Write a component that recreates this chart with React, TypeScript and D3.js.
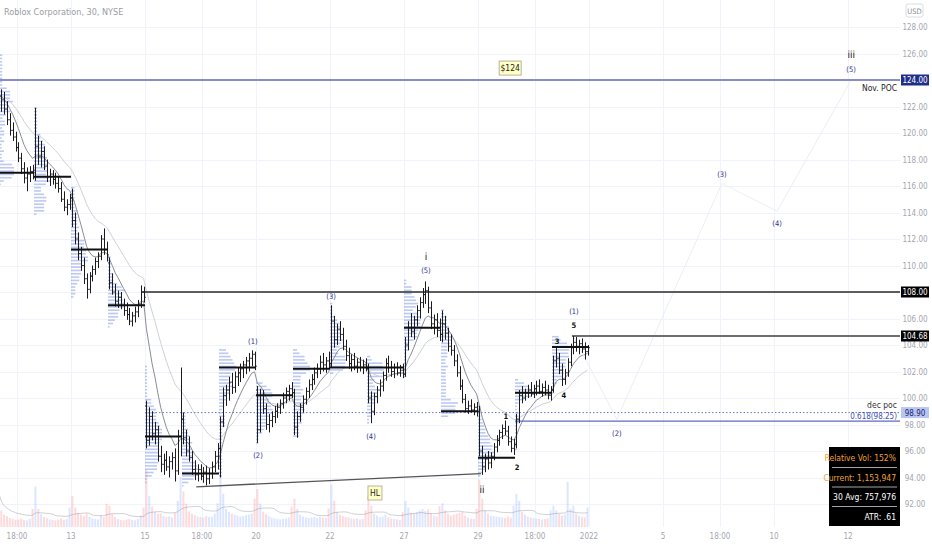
import React from "react";
import * as d3 from "d3";

// 30 min bars, 13 per session: [open, high, low, close]
const dec09 = [
  [125.0, 125.8, 122.4, 122.8], [122.8, 123.3, 121.6, 122.5], [122.5, 123.1, 121.4, 121.8], [121.8, 122.4, 120.6, 121.0],
  [121.0, 121.5, 119.8, 120.2], [120.2, 120.8, 119.4, 119.7], [119.7, 120.1, 118.6, 118.9], [118.9, 119.3, 117.8, 118.1],
  [118.1, 118.5, 116.9, 117.3], [117.3, 117.8, 116.2, 116.6], [116.6, 117.4, 115.6, 116.9], [116.9, 117.5, 116.3, 117.1],
  [117.1, 117.6, 116.5, 117.0],
];
const dec10 = [
  [117.2, 121.9, 116.4, 119.0], [119.0, 119.8, 117.6, 118.2], [118.2, 119.4, 117.4, 118.6], [118.6, 119.0, 117.2, 117.5],
  [117.5, 118.0, 116.3, 116.7], [116.7, 117.3, 116.0, 116.9], [116.9, 117.2, 116.1, 116.5], [116.5, 117.0, 115.8, 116.2],
  [116.2, 116.7, 115.5, 115.8], [115.8, 116.3, 114.8, 115.0], [115.0, 115.6, 114.1, 114.4], [114.4, 115.0, 113.8, 114.6],
  [114.6, 115.4, 114.2, 115.1],
];
const dec13 = [
  [115.1, 115.8, 112.9, 113.4], [113.4, 114.0, 111.6, 112.0], [112.0, 112.5, 110.4, 110.9], [110.9, 111.4, 109.6, 110.0],
  [110.0, 110.6, 108.6, 109.0], [109.0, 109.4, 107.5, 108.2], [108.2, 109.5, 107.9, 109.2], [109.2, 110.0, 108.8, 109.7],
  [109.7, 110.6, 109.3, 110.3], [110.3, 111.0, 109.8, 110.7], [110.7, 112.3, 110.4, 112.0], [112.0, 112.8, 110.8, 111.2],
  [111.2, 111.8, 110.3, 110.8],
];
const dec14 = [
  [110.2, 110.6, 108.2, 108.7], [108.7, 109.4, 107.8, 108.0], [108.0, 108.6, 106.9, 107.3], [107.3, 108.1, 106.8, 107.6],
  [107.6, 108.0, 106.7, 107.0], [107.0, 107.5, 106.2, 106.6], [106.6, 107.2, 105.9, 106.3], [106.3, 106.8, 105.5, 105.8],
  [105.8, 106.5, 105.4, 106.2], [106.2, 106.9, 105.7, 106.5], [106.5, 107.4, 106.1, 107.1], [107.1, 108.5, 106.8, 108.0],
  [108.0, 108.4, 107.2, 107.6],
];
const dec15 = [
  [99.4, 99.8, 96.2, 96.8], [96.8, 99.3, 96.4, 98.6], [98.6, 99.0, 96.8, 97.3], [97.3, 98.2, 96.5, 97.6],
  [97.6, 97.9, 95.2, 95.6], [95.6, 96.4, 94.4, 95.0], [95.0, 95.8, 94.2, 95.3], [95.3, 96.0, 94.5, 94.8],
  [94.8, 95.6, 94.0, 95.2], [95.2, 95.9, 94.6, 95.5], [95.5, 96.2, 93.7, 94.5], [94.5, 97.6, 94.2, 97.1],
  [97.1, 102.3, 95.6, 98.4],
];
const dec16 = [
  [98.4, 98.9, 96.5, 97.0], [97.0, 97.6, 95.6, 96.0], [96.0, 97.1, 95.2, 95.5], [95.5, 96.0, 94.2, 94.6],
  [94.6, 95.3, 93.8, 94.2], [94.2, 95.0, 93.7, 94.6], [94.6, 95.0, 93.8, 94.1], [94.1, 94.8, 93.6, 94.4],
  [94.4, 94.9, 93.4, 93.9], [93.9, 94.7, 93.5, 94.3], [94.3, 95.2, 93.9, 94.8], [94.8, 96.0, 94.4, 95.6],
  [95.6, 96.6, 94.6, 96.2],
];
const dec17 = [
  [96.2, 98.6, 94.0, 98.2], [98.2, 100.8, 97.8, 100.2], [100.2, 101.0, 99.4, 100.6], [100.6, 101.6, 99.8, 101.2],
  [101.2, 101.9, 100.3, 100.8], [100.8, 102.0, 100.4, 101.6], [101.6, 102.3, 100.9, 101.9], [101.9, 102.6, 101.2, 102.2],
  [102.2, 102.8, 101.5, 102.5], [102.5, 103.1, 101.8, 102.8], [102.8, 103.4, 102.0, 103.0], [103.0, 103.6, 102.4, 103.3],
  [103.3, 103.5, 102.1, 102.4],
];
const dec20 = [
  [100.6, 100.9, 96.6, 97.6], [97.6, 100.7, 97.4, 100.2], [100.2, 100.6, 98.8, 99.2], [99.2, 99.6, 97.6, 98.0],
  [98.0, 98.8, 97.4, 98.3], [98.3, 99.0, 97.8, 98.6], [98.6, 99.4, 98.1, 99.0], [99.0, 99.6, 98.5, 99.3],
  [99.3, 99.9, 98.8, 99.6], [99.6, 100.4, 99.2, 100.0], [100.0, 100.8, 99.6, 100.5], [100.5, 101.0, 99.8, 100.7],
  [100.7, 101.2, 100.0, 100.4],
];
const dec21 = [
  [100.4, 100.7, 97.2, 97.8], [97.8, 99.0, 97.0, 98.6], [98.6, 99.6, 98.2, 99.3], [99.3, 100.2, 98.9, 99.9],
  [99.9, 100.8, 99.5, 100.5], [100.5, 101.4, 100.0, 101.0], [101.0, 101.8, 100.6, 101.4], [101.4, 102.3, 101.0, 101.9],
  [101.9, 102.6, 101.5, 102.2], [102.2, 103.2, 101.8, 102.7], [102.7, 103.4, 102.0, 102.5], [102.5, 103.1, 101.9, 102.8],
  [102.8, 103.5, 102.2, 102.6],
];
const dec22 = [
  [102.6, 107.0, 102.3, 105.8], [105.8, 106.2, 103.8, 104.4], [104.4, 105.6, 104.0, 105.2], [105.2, 105.8, 104.3, 104.8],
  [104.8, 105.3, 103.6, 103.9], [103.9, 104.4, 102.8, 103.2], [103.2, 103.8, 102.2, 102.6], [102.6, 103.3, 102.0, 102.9],
  [102.9, 103.4, 102.1, 102.4], [102.4, 103.0, 101.9, 102.7], [102.7, 103.1, 102.0, 102.3], [102.3, 102.9, 101.8, 102.5],
  [102.5, 103.0, 102.0, 102.2],
];
const dec23 = [
  [102.2, 102.6, 99.6, 100.0], [100.0, 100.5, 98.1, 99.0], [99.0, 100.4, 98.7, 100.1], [100.1, 100.9, 99.6, 100.6],
  [100.6, 101.4, 100.1, 100.9], [100.9, 102.0, 100.5, 101.7], [101.7, 103.0, 101.3, 102.6], [102.6, 103.2, 101.9, 102.3],
  [102.3, 102.8, 101.6, 102.0], [102.0, 102.6, 101.5, 102.3], [102.3, 102.7, 101.7, 101.9], [101.9, 102.5, 101.6, 102.1],
  [102.1, 102.6, 101.5, 101.8],
];
const dec27 = [
  [101.8, 104.6, 101.6, 104.0], [104.0, 105.8, 103.6, 105.3], [105.3, 106.4, 104.6, 105.0], [105.0, 106.2, 104.4, 105.9],
  [105.9, 107.0, 105.4, 106.6], [106.6, 107.6, 106.0, 107.2], [107.2, 108.3, 106.8, 107.8], [107.8, 108.8, 107.1, 108.1],
  [108.1, 108.4, 106.4, 106.8], [106.8, 107.3, 105.2, 105.6], [105.6, 106.3, 104.8, 105.9], [105.9, 106.4, 104.6, 105.1],
  [105.1, 106.0, 104.3, 104.8],
];
const dec28 = [
  [104.8, 106.6, 104.2, 105.6], [105.6, 106.2, 104.4, 104.9], [104.9, 105.3, 103.5, 103.9], [103.9, 104.8, 103.2, 103.6],
  [103.6, 104.0, 102.4, 102.8], [102.8, 103.3, 101.6, 101.9], [101.9, 102.4, 100.6, 100.9], [100.9, 101.4, 99.6, 99.9],
  [99.9, 100.3, 98.9, 99.2], [99.2, 99.8, 98.8, 99.4], [99.4, 99.9, 98.9, 99.1], [99.1, 99.6, 98.7, 99.3],
  [99.3, 99.7, 98.6, 99.0],
];
const dec29 = [
  [99.0, 99.4, 95.6, 96.0], [96.0, 96.4, 94.2, 94.8], [94.8, 95.8, 94.4, 95.4], [95.4, 96.0, 94.6, 95.1],
  [95.1, 95.9, 94.7, 95.6], [95.6, 96.6, 95.3, 96.3], [96.3, 97.2, 95.9, 96.8], [96.8, 97.6, 96.4, 97.4],
  [97.4, 98.0, 96.9, 97.7], [97.7, 98.3, 97.2, 97.5], [97.5, 97.9, 96.4, 96.7], [96.7, 97.1, 95.9, 96.2],
  [96.2, 96.9, 95.7, 96.5],
];
const dec30 = [
  [96.5, 98.8, 96.2, 98.4], [98.4, 100.6, 98.1, 100.2], [100.2, 100.9, 99.6, 100.0], [100.0, 100.7, 99.8, 100.4],
  [100.4, 101.0, 100.0, 100.6], [100.6, 101.2, 100.1, 100.3], [100.3, 101.0, 100.0, 100.7], [100.7, 101.3, 100.2, 100.9],
  [100.9, 101.4, 100.3, 100.5], [100.5, 101.1, 100.1, 100.8], [100.8, 101.3, 100.2, 100.6], [100.6, 101.0, 99.9, 100.2],
  [100.2, 100.9, 99.8, 100.6],
];
const dec31 = [
  [100.6, 103.2, 100.4, 102.8], [102.8, 103.9, 102.3, 103.0], [103.0, 103.4, 101.8, 102.1], [102.1, 102.6, 100.9, 101.4],
  [101.4, 102.2, 101.0, 101.9], [101.9, 103.0, 101.6, 102.7], [102.7, 104.1, 102.4, 103.8], [103.8, 104.68, 103.3, 104.2],
  [104.2, 104.6, 103.5, 103.9], [103.9, 104.4, 103.3, 104.1], [104.1, 104.5, 103.4, 103.7], [103.7, 104.2, 102.9, 103.5],
  [103.5, 104.0, 103.2, 103.8],
];
const sessions = [dec09, dec10, dec13, dec14, dec15, dec16, dec17, dec20, dec21, dec22, dec23, dec27, dec28, dec29, dec30, dec31];

// volume per bar, thousands
const volumes = [
  [1500, 700, 520, 460, 380, 340, 300, 320, 360, 300, 280, 340, 760],
  [1700, 760, 540, 420, 380, 320, 300, 280, 320, 360, 300, 340, 820],
  [1300, 820, 600, 520, 460, 560, 420, 360, 340, 320, 480, 420, 980],
  [900, 560, 420, 340, 300, 280, 320, 340, 300, 280, 340, 480, 820],
  [2400, 1300, 860, 640, 560, 580, 460, 420, 440, 400, 600, 1100, 2100],
  [1500, 980, 660, 560, 500, 440, 420, 400, 460, 420, 440, 560, 1000],
  [2200, 1400, 760, 640, 560, 520, 480, 440, 460, 500, 520, 560, 1200],
  [1600, 980, 640, 540, 460, 400, 360, 340, 320, 340, 360, 400, 860],
  [1200, 760, 520, 440, 400, 380, 400, 420, 380, 440, 400, 380, 780],
  [1800, 1100, 620, 520, 460, 420, 400, 360, 340, 360, 320, 340, 700],
  [1300, 900, 560, 480, 420, 440, 520, 400, 360, 340, 320, 300, 620],
  [1100, 820, 600, 560, 620, 700, 760, 680, 740, 560, 480, 440, 880],
  [1000, 700, 560, 480, 520, 560, 600, 640, 480, 400, 360, 340, 760],
  [2000, 1200, 700, 560, 480, 460, 440, 420, 400, 380, 440, 400, 900],
  [1400, 1100, 640, 520, 440, 400, 380, 360, 340, 320, 340, 360, 700],
  [900, 700, 560, 480, 520, 1900, 760, 900, 560, 480, 420, 400, 820],
];

// session point of control, per session
const pocPrices = [117.0, 116.7, 111.2, 107.0, 97.1, 94.3, 102.3, 100.2, 102.2, 102.3, 102.3, 105.3, 99.0, 95.5, 100.4, 103.85];

const priceTicks = [92, 94, 96, 98, 100, 102, 104, 106, 108, 110, 112, 114, 116, 118, 120, 122, 124, 126, 128];
const timeTickSlots = [7, 26, 52, 72, 91, 117, 143, 169, 189, 208, 234, 254, 273, 299];
const timeTickLabels = ["18:00", "13", "15", "18:00", "20", "22", "27", "29", "18:00", "2022", "5", "18:00", "10", "12"];

// horizontal levels: [price, start slot]
const novPoc = [124.0, 0];
const level108 = [108.0, 51];
const level10468 = [104.68, 202];
const decPoc = [98.9, 52];
const fib618 = [98.25, 182];
const hlLine = [[70, 93.3], [170, 94.3]];
const projection = [[202.5, 104.68], [217.8, 98.4], [254.7, 116.2], [274.1, 114.1], [300.1, 124.0]];

const waveSlots = [89.9, 91.7, 117.4, 131.4, 150.7, 150.7, 170.4, 178.8, 182.7, 196.8, 199.2, 202.7, 202.7, 217.8, 254.7, 274.1, 300.1, 300.1];
const wavePrices = [104.3, 95.7, 107.7, 97.13, 109.6, 110.7, 93.1, 98.64, 94.8, 104.3, 100.23, 105.5, 106.57, 97.36, 116.9, 113.2, 124.83, 125.96];
const waveTexts = ["(1)", "(2)", "(3)", "(4)", "(5)", "i", "ii", "1", "2", "3", "4", "5", "(1)", "(2)", "(3)", "(4)", "(5)", "iii"];

const infoRows = ["Relative Vol: 152%", "Current: 1,153,947", "30 Avg: 757,976", "ATR: .61"];

function ema(vals: number[], n: number) {
  const k = 2 / (n + 1);
  const out: number[] = [];
  vals.forEach((v, i) => out.push(i === 0 ? v : v * k + out[i - 1] * (1 - k)));
  return out;
}

const FONT = "'Liberation Sans Narrow', 'DejaVu Sans Condensed', 'Liberation Sans', sans-serif";

export default function App() {
  const bars = sessions.flat();
  const vols = volumes.flat();
  const N = bars.length;
  const plotR = 900;
  const plotB = 527;

  const x = d3.scaleLinear().domain([0, N]).range([-3, 589]);
  const y = d3.scaleLinear().domain([92, 124]).range([504, 80]);
  const vy = d3.scaleLinear().domain([0, 2400]).range([plotB, 470]);

  const closes = bars.map((b) => b[3]);
  const fast = ema(closes, 9);
  const slow = ema(closes, 24);
  const maLine = d3.line<number>().x((_, i) => x(i + 0.5)).y((d) => y(d));

  const volMa = vols.map((_, i) => d3.mean(vols.slice(Math.max(0, i - 19), i + 1))!);
  const volLine = d3.line<number>().x((_, i) => x(i + 0.5)).y((d) => vy(d)).curve(d3.curveMonotoneX);

  // session volume profiles built from the bars
  const profiles = sessions.map((sb, d) => {
    const bins = new Map<number, number>();
    sb.forEach(([, h, l], k) => {
      const b0 = Math.floor(l / 0.25);
      const b1 = Math.floor(h / 0.25);
      const share = volumes[d][k] / (b1 - b0 + 1);
      for (let b = b0; b <= b1; b++) bins.set(b, (bins.get(b) || 0) + share);
    });
    const max = d3.max(Array.from(bins.values()))!;
    return Array.from(bins.entries()).map(([b, v]) => ({ price: b * 0.25 + 0.125, w: v / max }));
  });

  const barPath = bars
    .map(([o, h, l, c], i) => {
      const cx = Math.round(x(i + 0.5)) + 0.5;
      return `M${cx},${y(h)}V${y(l)}M${cx - 1.3},${y(o)}H${cx}M${cx},${y(c)}H${cx + 1.3}`;
    })
    .join("");

  const levelBox = (p: number, text: string, bg: string, fg: string) => (
    <g key={text}>
      <rect x={901} y={y(p) - 5.5} width={28} height={11} fill={bg} />
      <text x={915} y={y(p) + 3} textAnchor="middle" fontSize={8} fill={fg} fontFamily={FONT}>{text}</text>
    </g>
  );

  return (
    <svg width={932} height={550} style={{ position: "absolute", left: 0, top: 0, background: "#fff" }}>
      <defs>
        <clipPath id="plot">
          <rect x={0} y={0} width={plotR} height={plotB} />
        </clipPath>
      </defs>

      {/* grid */}
      <g stroke="#f0f3fa" strokeWidth={1}>
        {priceTicks.map((p) => (
          <line key={p} x1={0} x2={plotR} y1={Math.round(y(p)) + 0.5} y2={Math.round(y(p)) + 0.5} />
        ))}
        {timeTickSlots.map((s) => (
          <line key={s} x1={Math.round(x(s)) + 0.5} x2={Math.round(x(s)) + 0.5} y1={0} y2={plotB} />
        ))}
      </g>

      <g clipPath="url(#plot)">
        {/* volume */}
        {vols.map((v, i) => (
          <rect
            key={i}
            x={x(i + 0.5) - 1}
            y={vy(v)}
            width={2}
            height={plotB - vy(v)}
            fill={bars[i][3] >= bars[i][0] ? "rgba(41,98,255,0.16)" : "rgba(242,54,69,0.18)"}
          />
        ))}
        <path d={volLine(volMa)!} fill="none" stroke="rgba(120,123,134,0.35)" strokeWidth={1} />

        {/* session volume profiles */}
        {profiles.map((rows, d) =>
          rows.map((r, j) => (
            <rect
              key={`${d}-${j}`}
              x={x(d * 13)}
              y={y(r.price) - 0.8}
              width={r.w * 17}
              height={1.6}
              fill="#6a88e4"
              opacity={0.45}
            />
          ))
        )}

        {/* moving averages */}
        <path d={maLine(slow)!} fill="none" stroke="#cfd1d6" strokeWidth={1} />
        <path d={maLine(fast)!} fill="none" stroke="#8a8d96" strokeWidth={1} />

        {/* projection of the count */}
        <path
          d={d3.line<number[]>().x((d) => x(d[0])).y((d) => y(d[1]))(projection)!}
          fill="none"
          stroke="#eceef4"
          strokeWidth={1}
        />

        {/* levels */}
        <line x1={x(novPoc[1])} x2={plotR} y1={y(novPoc[0])} y2={y(novPoc[0])} stroke="#8a8cc8" strokeWidth={2} />
        <line x1={x(level108[1])} x2={plotR} y1={y(level108[0])} y2={y(level108[0])} stroke="#2a2a2a" strokeWidth={1.3} />
        <line x1={x(level10468[1])} x2={plotR} y1={y(level10468[0])} y2={y(level10468[0])} stroke="#6f6f6f" strokeWidth={2} />
        <line x1={x(decPoc[1])} x2={plotR} y1={y(decPoc[0])} y2={y(decPoc[0])} stroke="#6b78d0" strokeWidth={1} strokeDasharray="1.5,2" />
        <line x1={x(fib618[1])} x2={plotR} y1={y(fib618[0])} y2={y(fib618[0])} stroke="#5c6bc0" strokeWidth={1.2} />
        <line x1={x(hlLine[0][0])} x2={x(hlLine[1][0])} y1={y(hlLine[0][1])} y2={y(hlLine[1][1])} stroke="#555" strokeWidth={1.3} />

        {/* bars */}
        <path d={barPath} fill="none" stroke="#1c1c1f" strokeWidth={1} />

        {/* session POC */}
        {pocPrices.map((p, d) => (
          <line key={d} x1={x(d * 13)} x2={x(d * 13 + 13)} y1={y(p)} y2={y(p)} stroke="#111" strokeWidth={2} />
        ))}

        {/* wave labels */}
        {waveTexts.map((t, i) => {
          const roman = /^i+$/.test(t);
          const paren = t.startsWith("(");
          return (
            <text
              key={i}
              x={x(waveSlots[i])}
              y={y(wavePrices[i])}
              dy="0.35em"
              textAnchor="middle"
              fontFamily={FONT}
              fontSize={roman ? 10 : 7.5}
              fontWeight={roman || paren ? "normal" : "bold"}
              fill={paren ? "#2e3192" : "#111"}
              style={{ WebkitFontSmoothing: "antialiased" }}
              textRendering="geometricPrecision"
            >
              {t}
            </text>
          );
        })}

        {/* tags */}
        <g>
          <rect x={x(180.3) - 11} y={y(124.9) - 7} width={22} height={14} fill="#ffffc6" stroke="#a5a58a" strokeWidth={0.8} />
          <text x={x(180.3)} y={y(124.9)} dy="0.35em" textAnchor="middle" fontSize={8.5} fontFamily={FONT} fill="#222">$124</text>
          <rect x={x(132.8) - 7} y={y(92.83) - 7} width={14} height={14} fill="#ffffc6" stroke="#a5a58a" strokeWidth={0.8} />
          <text x={x(132.8)} y={y(92.83)} dy="0.35em" textAnchor="middle" fontSize={8.5} fontFamily={FONT} fill="#222">HL</text>
        </g>

        <text x={897} y={y(novPoc[0]) + 11} textAnchor="end" fontSize={8.5} fontFamily={FONT} fill="#222">Nov. POC</text>
        <text x={897} y={y(decPoc[0]) - 5} textAnchor="end" fontSize={8.5} fontFamily={FONT} fill="#333">dec poc</text>
        <text x={897} y={y(decPoc[0]) + 6} textAnchor="end" fontSize={8} fontFamily={FONT} fill="#3f51b5">0.618(98.25)</text>
      </g>

      {/* title */}
      <text x={4} y={15} fontSize={9} fontFamily={FONT} fill="#9a9ca5">Roblox Corporation, 30, NYSE</text>

      {/* price axis */}
      <g fontFamily={FONT} fontSize={8} fill="#a3a6af" textAnchor="middle">
        {priceTicks.map((p) => (
          <text key={p} x={915} y={y(p) + 3}>{p.toFixed(2)}</text>
        ))}
      </g>
      <rect x={906} y={4} width={17} height={13} rx={2} fill="#fff" stroke="#d1d4dc" strokeWidth={0.8} />
      <text x={914.5} y={13.5} textAnchor="middle" fontSize={7.5} fontFamily={FONT} fill="#8a8d96">USD</text>
      {levelBox(novPoc[0], "124.00", "#1f2e86", "#fff")}
      {levelBox(level108[0], "108.00", "#000", "#fff")}
      {levelBox(level10468[0], "104.68", "#000", "#fff")}
      {levelBox(decPoc[0], "98.90", "#b9c6f4", "#1b2466")}

      {/* time axis */}
      <g fontFamily={FONT} fontSize={8} fill="#a3a6af" textAnchor="middle">
        {timeTickSlots.map((s, i) => (
          <text key={s} x={x(s)} y={539}>{timeTickLabels[i]}</text>
        ))}
      </g>

      {/* stats box */}
      <g fontFamily={FONT} fontSize={8.5}>
        <rect x={829} y={447} width={71} height={79} fill="#000" />
        {[467.5, 487, 506.5].map((ly) => (
          <line key={ly} x1={832} x2={897} y1={ly} y2={ly} stroke="#cfcfcf" strokeWidth={0.8} />
        ))}
        {infoRows.map((t, i) => (
          <text key={t} x={896} y={461 + i * 19.5} textAnchor="end" fill={i < 2 ? "#f0a030" : "#fff"}>{t}</text>
        ))}
      </g>
    </svg>
  );
}
